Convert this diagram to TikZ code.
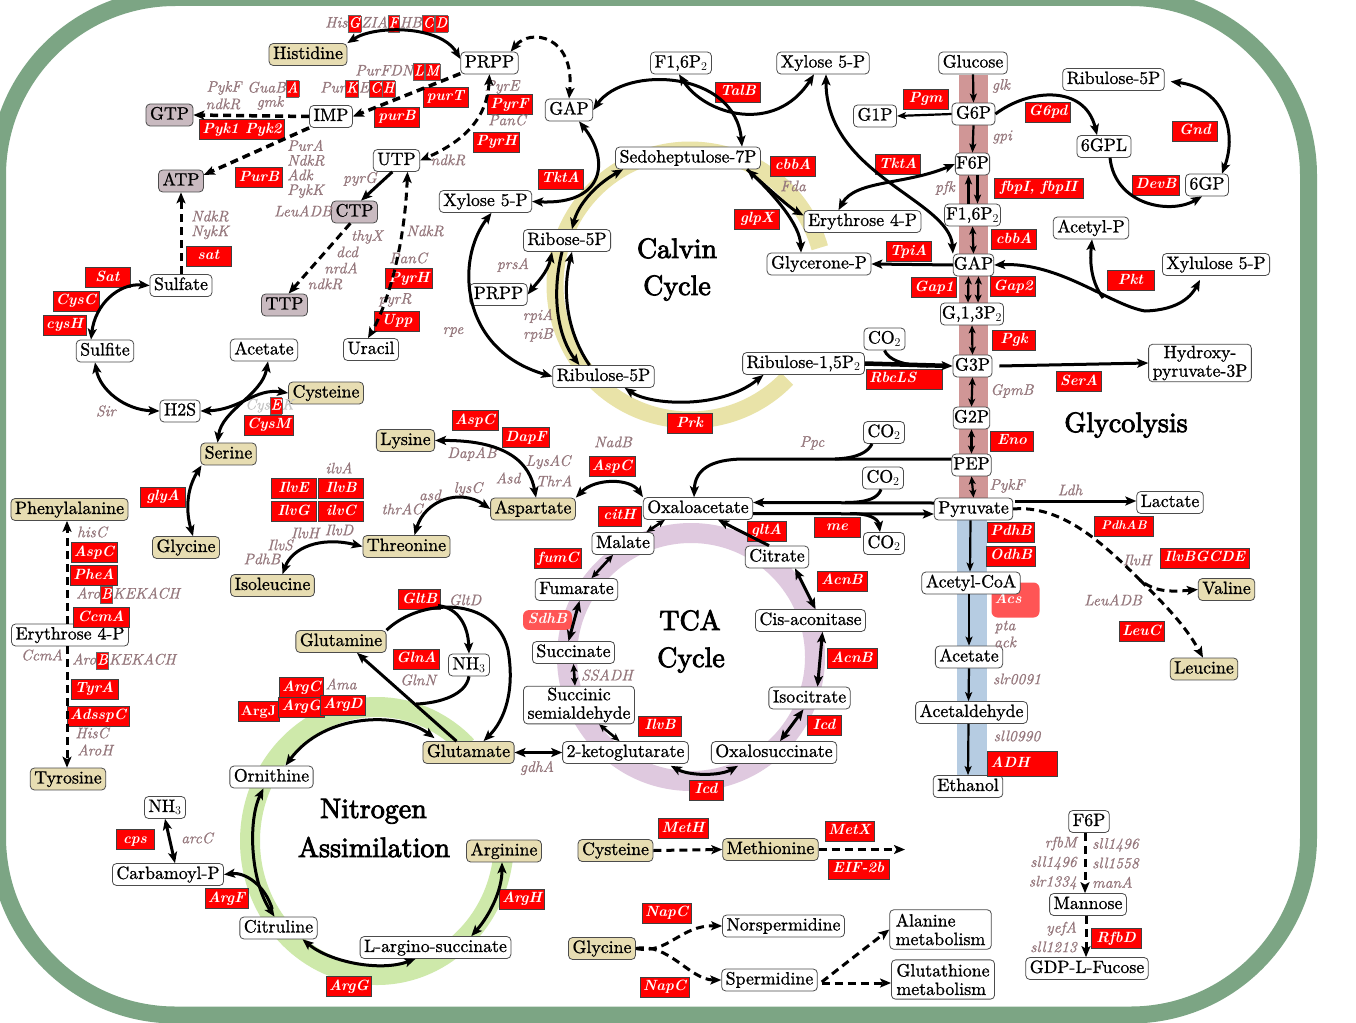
\documentclass[tikz,border=0pt]{standalone}
\usepackage{fontspec}
\setmainfont{lmroman10-regular.otf}[ItalicFont=lmroman10-italic.otf,BoldFont=lmroman10-bold.otf,BoldItalicFont=lmroman10-bolditalic.otf]
\newfontfamily\ttlfam{lmroman10-regular.otf}[FakeBold=3]
\newfontfamily\nodefam{lmroman10-regular.otf}[FakeBold=1]
\newfontfamily\genefam{lmroman10-italic.otf}[FakeBold=0.7]
\usepackage{tikz}
\usetikzlibrary{arrows.meta,calc}
\definecolor{framegreen}{RGB}{124,165,132}
\definecolor{aacol}{RGB}{231,221,178}
\definecolor{nuccol}{RGB}{201,186,192}
\definecolor{genecol}{RGB}{150,120,125}
\definecolor{enzred}{RGB}{255,0,0}
\definecolor{enzlight}{RGB}{255,85,85}
\definecolor{calvcol}{RGB}{233,227,168}
\definecolor{tcacol}{RGB}{223,201,223}
\definecolor{nitcol}{RGB}{206,233,170}
\definecolor{glyred}{RGB}{208,150,150}
\definecolor{glyblue}{RGB}{182,204,226}
\newcommand{\nfnt}{\nodefam\fontsize{17.8}{18.5}\selectfont}
\newcommand{\gfnt}{\genefam\fontsize{15.3}{14.7}\selectfont}
\newcommand{\efnt}{\fontsize{14.8}{15}\selectfont\bfseries\itshape}
\newcommand{\tfnt}{\ttlfam\fontsize{28}{30}\selectfont}
\newcommand{\rch}[1]{{\setlength{\fboxsep}{0.6pt}\setlength{\fboxrule}{0.5pt}\fcolorbox{black!60}{enzred}{\color{white}\efnt\rule[-4pt]{0pt}{15pt}#1}}}
\tikzset{
 met/.style={draw=black!70, line width=0.8pt, fill=white, rounded corners=4pt, font=\nfnt, inner xsep=4pt, inner ysep=3pt, text height=12.4pt, text depth=3.5pt},
 aa/.style={met, fill=aacol},
 nuc/.style={met, fill=nuccol},
 metm/.style={draw=black!70, line width=0.8pt, fill=white, rounded corners=4pt, font=\nfnt, inner xsep=4pt, inner ysep=1.5pt, align=center},
 enz/.style={draw=black!75, line width=0.8pt, fill=enzred, text=white, font=\efnt, inner xsep=3pt, inner ysep=3.3pt, text height=10.3pt, text depth=3pt, minimum width=45pt},
 enzl/.style={enz, draw=none, fill=enzlight, rounded corners=6pt},
 gene/.style={text=genecol, font=\gfnt, inner sep=0pt, align=center},
 ttl/.style={font=\tfnt, anchor=base, inner sep=0pt},
 ar/.style={line width=3pt,-{Stealth[length=11pt,width=9pt,inset=2.5pt]}},
 arr/.style={line width=3pt,{Stealth[length=11pt,width=9pt,inset=2.5pt]}-},
 arb/.style={line width=3pt,{Stealth[length=11pt,width=9pt,inset=2.5pt]}-{Stealth[length=11pt,width=9pt,inset=2.5pt]}},
 arbs/.style={line width=2.6pt,{Stealth[length=8pt,width=7pt,inset=2pt]}-{Stealth[length=8pt,width=7pt,inset=2pt]}},
 gar/.style={line width=2.2pt,-{Stealth[length=9pt,width=7pt,inset=2pt]}},
 garb/.style={line width=2.2pt,{Stealth[length=8pt,width=7pt,inset=2pt]}-{Stealth[length=8pt,width=7pt,inset=2pt]}},
 dsh/.style={dash pattern=on 8pt off 5pt},
 ln/.style={line width=3pt},
}
\begin{document}
\begin{tikzpicture}[x=1pt,y=-1pt]
\useasboundingbox (0,0) rectangle (1356,1022);
\clip (0,0) rectangle (1356,1022);
\fill[white] (0,0) rectangle (1356,1022);
% frame and background bands
\draw[draw=framegreen, line width=17pt, rounded corners=178pt] (-2.5,-2.5) rectangle (1308.5,1015);
\fill[glyred] (959,75) rectangle (988,498);
\fill[glyblue] (957,520) rectangle (987,776);
\draw[draw=calvcol, line width=17pt] (690,285) ++(44:135) arc[start angle=44, end angle=344, radius=135];
\draw[draw=tcacol, line width=20pt] (691,657) circle[radius=124];
\draw[draw=nitcol, line width=20pt] (377,841) ++(3:127 and 134) arc[start angle=3, end angle=315, x radius=127, y radius=134];

% label drawn behind Acetyl-CoA
\node[enzl, text width=42pt, align=left, minimum height=35pt] (eAcs) at (1015.5,600) {Acs};

% ---------- metabolite nodes ----------
\node[aa] (his) at (308,54.5) {Histidine};
\node[met] (prppA) at (489.5,63) {PRPP};
\node[nuc] (gtp) at (169.5,115) {GTP};
\node[met] (imp) at (331,116.5) {IMP};
\node[nuc] (atp) at (181,181) {ATP};
\node[met] (utp) at (396.5,160.5) {UTP};
\node[nuc] (ctp) at (354.5,212) {CTP};
\node[nuc] (ttp) at (284.5,305) {TTP};
\node[met] (urac) at (371,349.5) {Uracil};
\node[met] (sulfate) at (181,285.5) {Sulfate};
\node[met] (sulfite) at (105,351) {Sulfite};
\node[met] (hts) at (180,411) {H2S};
\node[met] (acetL) at (264,350) {Acetate};
\node[aa] (cysL) at (326,393) {Cysteine};
\node[aa] (ser) at (228.5,454) {Serine};
\node[aa] (glyL) at (186,547.5) {Glycine};
\node[aa] (phe) at (69.5,509.5) {Phenylalanine};
\node[met] (eryL) at (70,635) {Erythrose 4-P};
\node[aa] (tyr) at (68,779) {Tyrosine};
\node[aa] (lys) at (405.5,440.5) {Lysine};
\node[aa] (thr) at (406.5,546.5) {Threonine};
\node[aa] (ile) at (272.5,585.5) {Isoleucine};
\node[aa] (asp) at (533,509) {Aspartate};

\node[met] (gapC) at (569,110) {GAP};
\node[met] (fbpT) at (681,63) {F1,6P$_2$};
\node[met] (xylT) at (823,63) {Xylose 5-P};
\node[met] (sedo) at (688,158) {Sedoheptulose-7P};
\node[met] (xylM) at (485.5,201.5) {Xylose 5-P};
\node[met] (r5p) at (567,240.5) {Ribose-5P};
\node[met] (prppB) at (498.5,294.5) {PRPP};
\node[met] (ru5p) at (603.5,376.5) {Ribulose-5P};
\node[met] (rubp) at (803.5,363.5) {Ribulose-1,5P$_2$};
\node[met] (co2a) at (884.5,339) {CO$_2$};
\node[met] (ery) at (862.5,221.5) {Erythrose 4-P};
\node[met] (glyP) at (819,264) {Glycerone-P};
\node[met] (g1p) at (875,116) {G1P};

\node[met] (glc) at (973,63) {Glucose};
\node[met] (g6p) at (973.5,114) {G6P};
\node[met, inner xsep=0.8pt] (f6p) at (972.5,164) {F6P};
\node[met, inner xsep=1.5pt] (fbpC) at (972.5,215) {F1,6P$_2$};
\node[met, inner xsep=0.5pt] (gapG) at (973.5,265) {GAP};
\node[met, inner xsep=1.5pt] (bpg) at (972,314) {G,1,3P$_2$};
\node[met, inner xsep=2pt] (g3p) at (972.5,366) {G3P};
\node[met, inner xsep=0.8pt] (g2p) at (971.5,418) {G2P};
\node[met, inner xsep=1.5pt] (pep) at (971.5,465) {PEP};
\node[met] (pyr) at (973.5,509) {Pyruvate};
\node[met] (acoa) at (971,583) {Acetyl-CoA};
\node[met] (acetG) at (969,657) {Acetate};
\node[met] (acald) at (971.5,712.5) {Acetaldehyde};
\node[met] (etoh) at (968,786.5) {Ethanol};
\node[metm] (hpyr) at (1200,363) {Hydroxy-\\pyruvate-3P};

\node[met] (ru5pR) at (1113.5,79.5) {Ribulose-5P};
\node[met] (gpl) at (1104,146.5) {6GPL};
\node[met] (sgp) at (1207,185) {6GP};
\node[met] (acp) at (1091,228) {Acetyl-P};
\node[met] (xylu) at (1216,264.5) {Xylulose 5-P};
\node[met] (lac) at (1170,502.5) {Lactate};
\node[aa] (val) at (1226.5,589.5) {Valine};
\node[aa] (leu) at (1204,669) {Leucine};

\node[met] (co2b) at (884,432.5) {CO$_2$};
\node[met] (co2c) at (883,478) {CO$_2$};
\node[met] (co2d) at (884,543.5) {CO$_2$};
\node[met] (oxa) at (698,508.5) {Oxaloacetate};

\node[met] (mal) at (623,543.5) {Malate};
\node[met] (fum) at (576.5,589.5) {Fumarate};
\node[met] (suc) at (573.5,652.5) {Succinate};
\node[metm] (ssa) at (579,705) {Succinic\\semialdehyde};
\node[met] (akg) at (625.5,752.5) {2-ketoglutarate};
\node[met] (oxs) at (774,752.5) {Oxalosuccinate};
\node[met] (iso) at (809.5,698) {Isocitrate};
\node[met] (cis) at (810.5,620.5) {Cis-aconitase};
\node[met] (cit) at (777,557) {Citrate};

\node[aa] (glu) at (468.5,752.5) {Glutamate};
\node[aa] (gln) at (341,641.5) {Glutamine};
\node[met] (nhA) at (469,665) {NH$_3$};
\node[met] (orn) at (271.5,777) {Ornithine};
\node[met] (ctl) at (278.5,928) {Citruline};
\node[met] (carb) at (168,874.5) {Carbamoyl-P};
\node[met] (nhB) at (165,807.5) {NH$_3$};
\node[met] (larg) at (435.5,947.5) {L-argino-succinate};
\node[aa] (arg) at (504,851) {Arginine};

\node[aa] (cysB) at (615.5,850.5) {Cysteine};
\node[aa] (meth) at (770.5,849.5) {Methionine};
\coordinate (metend) at (905,849.5);
\node[aa] (glyB) at (602,948.5) {Glycine};
\node[met] (nspd) at (783.5,926) {Norspermidine};
\node[met] (spd) at (769.5,980) {Spermidine};
\node[metm, align=left, inner xsep=6pt, inner ysep=4pt] (ala) at (940.5,929.5) {Alanine\\metabolism};
\node[metm, align=left, inner xsep=5pt, inner ysep=4pt] (gsh) at (943,979.5) {Glutathione\\metabolism};
\node[met] (f6pB) at (1089,821.5) {F6P};
\node[met] (mann) at (1088,904.5) {Mannose};
\node[met] (gdp) at (1087,968.5) {GDP-L-Fucose};

% ---------- titles ----------
\node[ttl] (tCal1) at (677,258) {Calvin};
\node[ttl] (tCal2) at (677,295) {Cycle};
\node[ttl] (tTca1) at (690,630) {TCA};
\node[ttl] (tTca2) at (691,667) {Cycle};
\node[ttl] (tGly) at (1126,432) {Glycolysis};
\node[ttl] (tNit1) at (373.5,818) {Nitrogen};
\node[ttl] (tNit2) at (374,857) {Assimilation};

% ---------- enzyme labels ----------
\node[enz, minimum width=80pt] (ePyk) at (242,129.5) {Pyk1 Pyk2};
\node[enz] (ePurB) at (259,177.5) {PurB};
\node[enz] (esat) at (208.5,256) {sat};
\node[enz] (eSat) at (107.5,277.5) {Sat};
\node[enz] (eCysC) at (76,301) {CysC};
\node[enz, minimum width=43pt] (ecysH) at (64.5,325) {cysH};
\node[enz] (epurT) at (445.5,97) {purT};
\node[enz] (epurB) at (397,117) {purB};
\node[enz] (ePyrF) at (509.5,104.5) {PyrF};
\node[enz] (ePyrH1) at (496.5,142) {PyrH};
\node[enz] (ePyrH2) at (409,278.5) {PyrH};
\node[enz] (eUpp) at (397,321) {Upp};
\node[enz] (eTktA1) at (560.5,179) {TktA};
\node[enz] (eTalB) at (738,92) {TalB};
\node[enz] (ePgm) at (925.5,99) {Pgm};
\node[enz] (ecbbA1) at (793,166) {cbbA};
\node[enz] (eglpX) at (757,219) {glpX};
\node[enz] (eTktA2) at (898,164.5) {TktA};
\node[enz] (eTpiA) at (908.5,251.5) {TpiA};
\node[enz] (eGap1) at (934,287.5) {Gap1};
\node[enz, minimum width=89pt] (efbp) at (1038.5,188) {fbpI, fbpII};
\node[enz] (ecbbA2) at (1014,239.5) {cbbA};
\node[enz] (eGap2) at (1013,286.5) {Gap2};
\node[enz, minimum width=43pt] (ePgk) at (1014,340) {Pgk};
\node[enz] (eG6pd) at (1048,112) {G6pd};
\node[enz] (eGnd) at (1195,131) {Gnd};
\node[enz] (eDevB) at (1156,185) {DevB};
\node[enz, minimum width=47pt] (ePkt) at (1130.5,280.5) {Pkt};
\node[enz, text width=70pt, align=left] (eRbc) at (904,379) {RbcLS};
\node[enz] (eSerA) at (1079,381.5) {SerA};
\node[enz] (ePrk) at (689.5,423.5) {Prk};
\node[enz, minimum width=43pt] (eEno) at (1012,441) {Eno};
\node[enz, minimum width=43pt] (ePdhB) at (1011,532) {PdhB};
\node[enz, minimum width=43pt] (eOdhB) at (1011,556) {OdhB};
\node[enz, text width=64pt, align=left, minimum height=25pt] (eADH) at (1022.5,763.5) {ADH};
\node[enz, font=\fontsize{12.5}{13}\selectfont\bfseries\itshape, minimum width=59pt] (ePdhAB) at (1124,526) {PdhAB};
\node[enz, minimum width=89pt] (eIlvBG) at (1204.5,558) {IlvBGCDE};
\node[enz] (eLeuC) at (1141.5,631.5) {LeuC};
\node[enz] (eAspC1) at (475,420.5) {AspC};
\node[enz] (eDapF) at (526,437.5) {DapF};
\node[enz] (eAspC2) at (612,466.5) {AspC};
\node[enz, minimum width=43pt] (ecitH) at (619.5,516) {citH};
\node[enz, minimum width=40pt] (efumC) at (558,558.5) {fumC};
\node[enzl, minimum width=49pt] (eSdhB) at (547.5,620) {SdhB};
\node[enz, minimum width=39pt] (egltA) at (766.5,531) {gltA};
\node[enz, minimum width=46pt] (eme) at (837,527) {me};
\node[enz, minimum width=50pt] (eAcnB1) at (842,581) {AcnB};
\node[enz, minimum width=50pt] (eAcnB2) at (852,658.5) {AcnB};
\node[enz, minimum width=34pt] (eIcd1) at (824,725.5) {Icd};
\node[enz, minimum width=34pt] (eIcd2) at (706,790) {Icd};
\node[enz, minimum width=43pt] (eIlvB2) at (660,726) {IlvB};
\node[enz, minimum width=37pt] (eGltB) at (419.5,599.5) {GltB};
\node[enz, minimum width=39pt] (eGlnA) at (416.5,659) {GlnA};
\node[enz] (eIlvE) at (293.5,488.5) {IlvE};
\node[enz] (eIlvB1) at (341,488.5) {IlvB};
\node[enz] (eIlvG) at (293.5,511.5) {IlvG};
\node[enz] (eilvC) at (341,511.5) {ilvC};
\node[enz] (eglyA) at (163,497) {glyA};
\node[enz] (eCysM) at (269,425) {CysM};
\node[enz] (eAspC3) at (94,552.5) {AspC};
\node[enz] (ePheA) at (94,575.5) {PheA};
\node[enz, minimum width=56pt] (eCcmA) at (101,617.5) {CcmA};
\node[enz, minimum width=47pt] (eTyrA) at (94.5,689) {TyrA};
\node[enz, minimum width=57pt] (eAdss) at (98,716) {AdsspC};
\node[enz, minimum width=39pt, font=\fontsize{14}{15}\selectfont\bfseries] (eArgJ) at (258.5,711.5) {ArgJ};
\node[enz, minimum width=41pt] (eArgC) at (301.5,687.5) {ArgC};
\node[enz, minimum width=41pt] (eArgG1) at (301.5,707) {ArgG};
\node[enz, minimum width=42pt] (eArgD) at (343,705) {ArgD};
\node[enz, minimum width=43pt] (eArgF) at (226.5,898.5) {ArgF};
\node[enz, minimum width=38pt] (ecps) at (135,839.5) {cps};
\node[enz, minimum width=42pt] (eArgG2) at (349,986.5) {ArgG};
\node[enz, minimum width=44pt] (eArgH) at (522,899) {ArgH};
\node[enz, minimum width=50pt] (eMetH) at (683,828.5) {MetH};
\node[enz, minimum width=49pt] (eMetX) at (849.5,831) {MetX};
\node[enz, minimum width=61pt] (eEIF) at (858.5,869) {EIF-2b};
\node[enz, minimum width=47pt] (eNapC1) at (666.5,913) {NapC};
\node[enz, minimum width=47pt] (eNapC2) at (664.5,987) {NapC};
\node[enz, minimum width=50pt] (eRfbD) at (1116,938.5) {RfbD};

% ---------- gene labels ----------
\node[gene, anchor=west] (gHis) at (325,24) {His\rch{G}ZIA\rch{F}HB\rch{C}\rch{D}};
\node[gene, anchor=west] (gPurF) at (355,72) {PurFDN\rch{L}\rch{M}};
\node[gene, anchor=west] (gPurK) at (320,89) {Pur\rch{K}E\rch{C}\rch{H}};
\node[gene, anchor=west] (gGua) at (247,89) {GuaB\rch{A}};
\node[gene] (gPykF) at (224,88) {PykF};
\node[gene] (gndkR1) at (223,104) {ndkR};
\node[gene] (ggmk) at (270,103) {gmk};
\node[gene, align=left, anchor=west] (gPurA) at (287,169) {PurA\\NdkR\\Adk\\PykK};
\node[gene] (gLeu1) at (303,211) {LeuADB};
\node[gene, align=left, anchor=west] (gNdk2) at (191,225) {NdkR\\NykK};
\node[gene] (gpyrG) at (360,179) {pyrG};
\node[gene] (gthyX) at (367,237) {thyX};
\node[gene] (gdcd) at (347,252) {dcd};
\node[gene] (gnrdA) at (341,268) {nrdA};
\node[gene] (gndkR3) at (325,284) {ndkR};
\node[gene] (gPyrE) at (502,87) {PyrE};
\node[gene] (gPanC1) at (507,120) {PanC};
\node[gene] (gndkR2) at (448,160) {ndkR};
\node[gene] (gNdkR4) at (425,231) {NdkR};
\node[gene] (gPanC2) at (408,258) {PanC};
\node[gene] (gpyrR) at (395,300) {pyrR};
\node[gene] (gprsA) at (513,265) {prsA};
\node[gene] (grpiA) at (538,316) {rpiA};
\node[gene] (grpiB) at (538,335) {rpiB};
\node[gene] (grpe) at (453,332) {rpe};
\node[gene] (gglk) at (1001,86) {glk};
\node[gene] (ggpi) at (1002,137) {gpi};
\node[gene] (gpfk) at (945,188) {pfk};
\node[gene] (gFda) at (793,186) {Fda};
\node[gene] (gGpmB) at (1012,391) {GpmB};
\node[gene] (gPykF2) at (1007,486) {PykF};
\node[gene] (gPpc) at (812,443) {Ppc};
\node[gene] (gLdh) at (1070,490) {Ldh};
\node[gene] (gIlvH2) at (1137,560) {IlvH};
\node[gene] (gLeu2) at (1113,600) {LeuADB};
\node[gene] (gpta) at (1005,627) {pta};
\node[gene] (gack) at (1005,642) {ack};
\node[gene] (gslr) at (1017,679) {slr0091};
\node[gene] (gsll) at (1017,736) {sll0990};
\node[gene] (gSir) at (106,411) {Sir};
\node[gene, text=gray!45, anchor=west] (gCysEK) at (245,406) {Cys\rch{E}K};
\node[gene] (ghisC) at (92,532) {hisC};
\node[gene, anchor=west] (gAro1) at (76,595) {Aro\rch{B}KEKACH};
\node[gene] (gCcmA) at (42,655) {CcmA};
\node[gene, anchor=west] (gAro2) at (72,661) {Aro\rch{B}KEKACH};
\node[gene] (gHisC) at (92,733) {HisC};
\node[gene] (gAroH) at (95,750) {AroH};
\node[gene] (gilvA) at (339,468) {ilvA};
\node[gene] (gIlvH) at (305,533) {IlvH};
\node[gene] (gIlvD) at (339,530) {IlvD};
\node[gene] (gIlvS) at (280,545) {IlvS};
\node[gene] (gPdhB) at (262,559) {PdhB};
\node[gene] (gDapAB) at (472,454) {DapAB};
\node[gene] (gNadB) at (613,442) {NadB};
\node[gene] (gLysAC) at (548,462) {LysAC};
\node[gene] (gThrA) at (554,481) {ThrA};
\node[gene] (gAsd) at (508,478) {Asd};
\node[gene] (gasd) at (430,495) {asd};
\node[gene] (glysC) at (468,489) {lysC};
\node[gene] (gthrAC) at (402,509) {thrAC};
\node[gene] (gGltD) at (465,600) {GltD};
\node[gene] (gGlnN) at (418,680) {GlnN};
\node[gene] (gSSADH) at (607,675) {SSADH};
\node[gene] (ggdhA) at (537,768) {gdhA};
\node[gene] (gAma) at (341,684) {Ama};
\node[gene] (garcC) at (197,838) {arcC};
\node[gene, align=right, anchor=east, font=\genefam\fontsize{15.3}{19.5}\selectfont] (gF6L) at (1077,863) {rfbM\\sll1496\\slr1334};
\node[gene, align=left, anchor=west, font=\genefam\fontsize{15.3}{19.5}\selectfont] (gF6R) at (1092,863) {sll1496\\sll1558\\manA};
\node[gene, align=right, anchor=east, font=\genefam\fontsize{15.3}{19.5}\selectfont] (gMan) at (1077,937) {yefA\\sll1213};

% ---------- connectors: nucleotides ----------
\draw[ar, dsh, line width=3.5pt] (imp.west) -- (gtp.east);
\draw[ar, dsh, line width=3.5pt] (imp.south west) -- (atp.15);
\draw[ar, dsh, line width=3.5pt] (prppA.200) -- (imp.east);
\draw[arb, dsh] (prppA.south) .. controls (487,120) and (462,142) .. (utp.east);
\draw[ar] (utp.250) -- (ctp.60);
\draw[ar, dsh] (ctp.250) -- (ttp.70);
\draw[arb, dsh] ($(utp.south)+(11,0)$) .. controls (405,240) and (390,300) .. ($(urac.north)+(-3,0)$);
\draw[arb] (his.north east) .. controls (375,25) and (440,25) .. ($(prppA.west)+(0,-4)$);
\draw[arb, dsh] ($(prppA.north east)+(-8,0)$) .. controls (530,28) and (575,35) .. (gapC.north);
% sulfur
\draw[ar, dsh] (sulfate.north) -- (atp.south);
\draw[arb] (sulfate.west) .. controls (118,283) and (95,305) .. ($(sulfite.north)+(-14,0)$);
\draw[arb] ($(sulfite.south)+(-10,0)$) .. controls (100,390) and (125,410) .. (hts.west);
\draw[arb] (hts.east) .. controls (240,410) and (255,388) .. (cysL.west);
\draw[arb] ($(ser.north)+(-11,0)$) .. controls (222,410) and (262,395) .. ($(acetL.south)+(4,0)$);
\draw[arb] ($(ser.south)+(-27,0)$) .. controls (186,490) and (186,512) .. ($(glyL.north)+(7,0)$);
% aromatic
\draw[ar, dsh] ($(eryL.north)+(-3,0)$) -- ($(phe.south)+(-2.5,0)$);
\draw[ar, dsh] ($(eryL.south)+(-3,0)$) -- ($(tyr.north)+(-1,0)$);
% aspartate family
\draw[arb] ($(asp.north)+(3,0)$) .. controls (530,465) and (510,440) .. (lys.east);
\draw[arb] (asp.west) .. controls (460,488) and (425,500) .. ($(thr.north)+(8,0)$);
\draw[arb] (asp.north east) .. controls (595,478) and (630,478) .. (oxa.north west);
\draw[arb] ($(ile.north)+(10,0)$) .. controls (292,548) and (320,536) .. (thr.west);
% Calvin
\draw[arb] (gapC.east) .. controls (625,65) and (735,70) .. ($(sedo.north)+(54,0)$);
\draw[arb] ($(fbpT.south)+(-2,0)$) .. controls (705,115) and (775,135) .. ($(xylT.south)+(-9,0)$);
\draw[arb] ($(gapC.south)+(10,0)$) .. controls (610,160) and (605,205) .. (xylM.east);
\draw[arb] ($(sedo.south west)+(8,0)$) .. controls (595,185) and (578,205) .. ($(r5p.north)+(5,0)$);
\draw[arb] ($(r5p.south)+(-15,0)$) .. controls (548,272) and (535,285) .. (prppB.east);
\draw[ar] ($(r5p.south)+(-5,0)$) .. controls (550,300) and (560,340) .. ($(ru5p.north)+(-24,0)$);
\draw[ar] ($(ru5p.north)+(-14,0)$) .. controls (572,340) and (560,300) .. ($(r5p.south)+(5,0)$);
\draw[arb] ($(xylM.south)+(6,0)$) .. controls (455,260) and (460,350) .. (ru5p.west);
\draw[arb] ($(ru5p.south east)+(-30,0)$) .. controls (650,405) and (720,410) .. ($(rubp.south)+(-40,0)$);
\draw[ar, line width=4.5pt] (rubp.east) -- (g3p.west);
\draw[ln] (co2a.south) .. controls (888,360) and (905,366) .. (928,366);
% glycolysis column
\draw[gar] (glc.south) -- (g6p.north);
\draw[gar] (g6p.south) -- (f6p.north);
\draw[gar] ($(fbpC.north)+(-4,0)$) -- ($(f6p.south)+(-4,0)$);
\draw[gar] ($(f6p.south)+(5,0)$) -- ($(fbpC.north)+(5,0)$);
\draw[garb] (fbpC.south) -- (gapG.north);
\draw[garb] ($(gapG.south)+(-5,0)$) -- ($(bpg.north)+(-4,0)$);
\draw[garb] ($(gapG.south)+(5,0)$) -- ($(bpg.north)+(6,0)$);
\draw[garb] (bpg.south) -- (g3p.north);
\draw[garb] (g3p.south) -- (g2p.north);
\draw[garb] (g2p.south) -- (pep.north);
\draw[garb] (pep.south) -- (pyr.north);
\draw[gar] ($(pyr.south)+(-3,0)$) -- ($(acoa.north)+(-1,0)$);
\draw[gar] ($(acoa.south)+(-2,0)$) -- ($(acetG.north)+(0,0)$);
\draw[gar] (acetG.south) -- ($(acald.north)+(-3,0)$);
\draw[gar] ($(acald.south)+(-3,0)$) -- (etoh.north);
\draw[gar] (g6p.west) -- (g1p.east);
\draw[ar] (gapG.west) -- (glyP.east);
\draw[ar] ($(g3p.east)+(7,0)$) -- (hpyr.west);
\draw[arb] ($(xylT.south)+(3,0)$) .. controls (826,175) and (950,200) .. (gapG.north west);
\draw[arb] (f6p.west) .. controls (905,185) and (855,180) .. ($(ery.north)+(-24,0)$);
\draw[arb] ($(sedo.south)+(59,0)$) .. controls (770,190) and (790,208) .. ($(ery.west)+(0,-6)$);
\draw[ar] ($(sedo.south)+(59,0)$) .. controls (775,195) and (800,225) .. ($(glyP.north)+(-18,0)$);
\draw[arb] ($(xylu.south)+(-16,4)$) .. controls (1192,295) and (1180,310) .. (1145,311) .. controls (1110,305) and (1060,262) .. (gapG.east);
\draw[ar] (1103,298) .. controls (1090,280) and (1090,260) .. ($(acp.south)+(1,0)$);
\draw[ar] (g6p.east) .. controls (1030,88) and (1085,85) .. ($(gpl.north)+(-7,0)$);
\draw[ar] ($(gpl.south)+(6,0)$) .. controls (1115,205) and (1170,215) .. ($(sgp.south)+(-5,0)$);
\draw[arb] ($(sgp.north)+(15,0)$) .. controls (1238,130) and (1222,88) .. ($(ru5pR.east)+(6,2)$);
% PEP / pyruvate / oxaloacetate
\draw[ar] ($(pep.west)+(0,-6)$) -- (745,459) .. controls (710,459) and (695,470) .. ($(oxa.north)+(-4,0)$);
\draw[ln] ($(co2b.south)+(-12,0)$) .. controls (868,452) and (858,458) .. (835,459);
\draw[ar] ($(pyr.west)+(0,-6)$) -- ($(oxa.east)+(0,-6)$);
\draw[ln] ($(co2c.south)+(-2,0)$) .. controls (878,498) and (868,502.5) .. (845,502.5);
\draw[ar] ($(oxa.east)+(0,5)$) -- ($(pyr.west)+(0,5)$);
\draw[ar] (850,513.5) .. controls (868,513.5) and (878,518) .. ($(co2d.north)+(-4,0)$);
\draw[ar] ($(pyr.east)+(2,-8)$) -- ($(lac.west)+(0,-1.5)$);
\draw[ar, dsh] (pyr.east) .. controls (1060,505) and (1100,540) .. (1140,580) .. controls (1155,592) and (1170,592) .. (val.west);
\draw[ar, dsh] (1140,580) .. controls (1165,605) and (1185,625) .. ($(leu.north)+(-1,0)$);
% TCA
\draw[arbs] ($(mal.north east)+(-8,0)$) -- ($(oxa.south west)+(22,0)$);
\draw[arbs] ($(mal.south)+(-10,0)$) -- ($(fum.north)+(15,0)$);
\draw[arb] ($(fum.south)+(3,0)$) -- ($(suc.north)+(-5,0)$);
\draw[arbs] (suc.south) -- ($(ssa.north)+(-4,0)$);
\draw[arbs] ($(ssa.south)+(20,0)$) -- ($(akg.north)+(-6,0)$);
\draw[arb] (glu.east) -- (akg.west);
\draw[arb] ($(akg.south east)+(-18,2)$) .. controls (690,776) and (720,776) .. ($(oxs.south west)+(27,2)$);
\draw[arb] ($(oxs.north)+(6,0)$) -- ($(iso.south)+(-6,0)$);
\draw[arb] ($(iso.north)+(8,0)$) -- ($(cis.south)+(12,0)$);
\draw[arb] ($(cit.south)+(18,0)$) -- ($(cis.north)+(5,0)$);
\draw[ar] ($(cit.north)+(-8,0)$) -- ($(oxa.south)+(20,0)$);
% nitrogen
\draw[ar] (gln.north east) .. controls (420,598) and (495,595) .. (508,650) .. controls (515,690) and (505,720) .. ($(glu.north)+(15,0)$);
\draw[ar] (438,605.5) .. controls (458,608) and (468,625) .. (nhA.north);
\draw[ar] ($(glu.north)+(-12,0)$) -- ($(gln.south)+(16,0)$);
\draw[ln] (nhA.south) .. controls (466,695) and (440,703) .. (416,704);
\draw[arb] ($(glu.north west)+(12,-3)$) .. controls (400,712) and (325,712) .. ($(orn.north)+(14,0)$);
\draw[arb] ($(orn.south)+(-8,0)$) .. controls (248,820) and (250,880) .. ($(ctl.north)+(-4,0)$);
\draw[arr, shorten >=8pt] (carb.east) .. controls (245,872) and (265,885) .. ($(ctl.north)+(-4,0)$);
\draw[arb] (nhB.south) -- ($(carb.north)+(7,0)$);
\draw[arb] ($(ctl.south east)+(-15,0)$) .. controls (330,962) and (380,972) .. ($(larg.south)+(-20,0)$);
\draw[arb] ($(larg.north east)+(-40,0)$) .. controls (490,915) and (502,890) .. ($(arg.south)+(-2,0)$);
% bottom pathways
\draw[ar, dsh] (cysB.east) -- (meth.west);
\draw[ar, dsh] (meth.east) -- (metend);
\draw[ar, dsh] (glyB.east) .. controls (668,955) and (680,925) .. (nspd.west);
\draw[ar, dsh] (glyB.east) .. controls (668,942) and (690,980) .. (spd.west);
\draw[ar, dsh] ($(spd.east)+(4,2)$) -- (ala.west);
\draw[ar, dsh] ($(spd.east)+(4,3)$) -- ($(gsh.west)+(0,3.5)$);
\draw[ar, dsh] ($(f6pB.south)+(-4,0)$) -- ($(mann.north)+(-3,0)$);
\draw[ar, dsh] ($(mann.south)+(-2,0)$) -- ($(gdp.north)+(-1,0)$);
\end{tikzpicture}
\end{document}
